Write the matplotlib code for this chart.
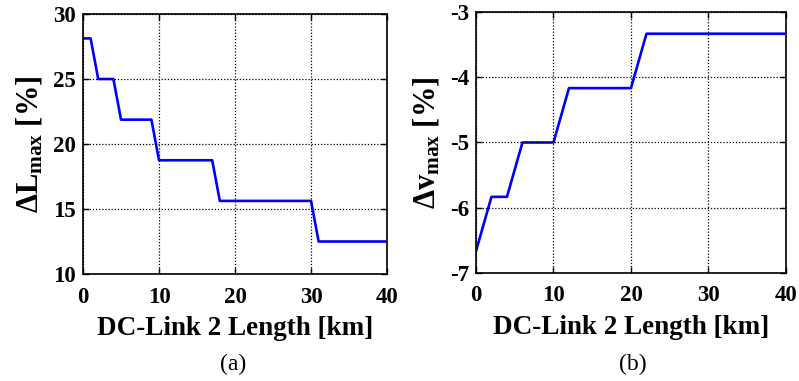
import matplotlib
matplotlib.use("Agg")
import matplotlib.pyplot as plt
from matplotlib.ticker import MultipleLocator, FormatStrFormatter

plt.rcParams["font.family"] = ["Liberation Serif", "DejaVu Serif"]
plt.rcParams["font.weight"] = "bold"
plt.rcParams["axes.unicode_minus"] = False
plt.rcParams["mathtext.fontset"] = "custom"
plt.rcParams["mathtext.rm"] = "Liberation Serif:bold"
plt.rcParams["mathtext.it"] = "Liberation Serif:bold"
plt.rcParams["mathtext.bf"] = "Liberation Serif:bold"

# Link length (km) and maximum loading deviation (%)
length_a = [0, 1, 2, 4, 5, 9, 10, 17, 18, 30, 31, 40]
dL_max = [28.125, 28.125, 25.0, 25.0, 21.875, 21.875, 18.75, 18.75,
          15.625, 15.625, 12.5, 12.5]

# Link length (km) and maximum voltage deviation (%)
length_b = [0, 2, 4, 6, 10, 12, 20, 22, 40]
dv_max = [-6.667, -5.833, -5.833, -5.0, -5.0, -4.167, -4.167, -3.333, -3.333]

xlabel = "DC-Link 2 Length [km]"

fig = plt.figure(figsize=(7.99, 3.81), dpi=100)
ax1 = fig.add_axes([0.1039, 0.2808, 0.3805, 0.6824])
ax2 = fig.add_axes([0.5957, 0.2835, 0.3880, 0.6850])


def style(ax):
    ax.grid(True, color="black", linestyle=(0, (1, 1.5)), linewidth=0.9)
    ax.set_axisbelow(False)
    ax.tick_params(direction="in", top=True, right=True, length=4,
                   width=1.0, labelsize=16.5)
    ax.tick_params(axis="x", pad=9)
    ax.tick_params(axis="y", pad=5)
    for s in ax.spines.values():
        s.set_linewidth(1.4)
        s.set_color("#222222")
    for lab in ax.get_xticklabels() + ax.get_yticklabels():
        lab.set_fontweight("bold")
    ax.set_xlim(0, 40)
    ax.xaxis.set_major_locator(MultipleLocator(10))
    ax.yaxis.set_major_formatter(FormatStrFormatter("%g"))


ax1.plot(length_a, dL_max, color="#0000ff", linewidth=1.9)
ax1.set_ylim(10, 30)
ax1.yaxis.set_major_locator(MultipleLocator(5))
style(ax1)
ax1.set_xlabel(xlabel, fontsize=19.5, fontweight="bold", labelpad=6)
ax1.set_ylabel(r"$\Delta L_{max}$ [%]", fontsize=22, fontweight="bold",
               labelpad=6)

ax2.plot(length_b, dv_max, color="#0000ff", linewidth=1.9)
ax2.set_ylim(-7, -3)
ax2.yaxis.set_major_locator(MultipleLocator(1))
style(ax2)
ax2.set_xlabel(xlabel, fontsize=19.5, fontweight="bold", labelpad=6)
ax2.set_ylabel(r"$\Delta v_{max}$ [%]", fontsize=22, fontweight="bold",
               labelpad=6)

fig.text(233 / 799, 1 - 364 / 381, "(a)", ha="center", va="center",
         fontsize=17, fontweight="normal")
fig.text(633 / 799, 1 - 364 / 381, "(b)", ha="center", va="center",
         fontsize=17, fontweight="normal")

fig.savefig("out.png", dpi=100)
